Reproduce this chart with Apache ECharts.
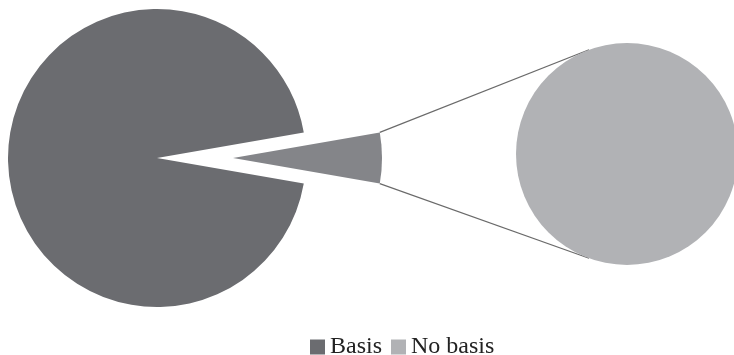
<!DOCTYPE html>
<html>
<head>
<meta charset="utf-8">
<script src="https://cdn.jsdelivr.net/npm/echarts@6/dist/echarts.min.js"></script>
<style>html,body{margin:0;padding:0;background:#fff;}#c{width:734px;height:355px;}</style>
</head>
<body>
<div id="c"></div>
<script>
// Data
const mainCategories = ['Other', 'Basis'];
const mainValues = [5.5, 94.5];
const secondCategories = ['No basis'];
const secondValues = [5.5];
const legendItems = ['Basis', 'No basis'];

// Layout / style
const mainCenter = [157, 158], mainR = 149, explode = 76;
const secCenter = [627, 154], secR = 111, secConnAngle = 110;
const colors = { 'Basis': '#6b6c70', 'Other': '#848589', 'No basis': '#b1b2b5' };

const total = mainValues.reduce((a, b) => a + b, 0);
const otherSpan = mainValues[0] / total * 360;
const startAngle = otherSpan / 2;

const chart = echarts.init(document.getElementById('c'), null, { renderer: 'canvas' });

// connector lines from exploded wedge edge to secondary pie
const wx = mainCenter[0] + explode, wy = mainCenter[1];
const a = startAngle * Math.PI / 180;
const topW = [wx + mainR * Math.cos(a), wy - mainR * Math.sin(a)];
const botW = [wx + mainR * Math.cos(a), wy + mainR * Math.sin(a)];
const b = secConnAngle * Math.PI / 180;
const topS = [secCenter[0] + secR * Math.cos(b), secCenter[1] - secR * Math.sin(b)];
const botS = [secCenter[0] + secR * Math.cos(b), secCenter[1] + secR * Math.sin(b)];

chart.setOption({
  animation: false,
  backgroundColor: '#fff',
  legend: {
    data: legendItems,
    left: 305,
    top: 330,
    icon: 'rect',
    itemWidth: 15,
    itemHeight: 15,
    itemGap: 9,
    selectedMode: false,
    textStyle: { fontFamily: 'Liberation Serif', fontSize: 24, color: '#222', padding: [0, 0, 0, 0] }
  },
  graphic: [
    { type: 'line', z: 0, shape: { x1: topW[0], y1: topW[1], x2: topS[0], y2: topS[1] }, style: { stroke: '#6a6a6a', lineWidth: 1.2 } },
    { type: 'line', z: 0, shape: { x1: botW[0], y1: botW[1], x2: botS[0], y2: botS[1] }, style: { stroke: '#6a6a6a', lineWidth: 1.2 } }
  ],
  series: [
    {
      type: 'pie',
      center: mainCenter,
      radius: mainR,
      startAngle: startAngle,
      clockwise: true,
      selectedMode: 'single',
      selectedOffset: explode,
      label: { show: false },
      labelLine: { show: false },
      emphasis: { disabled: true },
      silent: true,
      data: mainCategories.map((n, i) => ({
        name: n, value: mainValues[i], selected: i === 0,
        itemStyle: { color: colors[n] }
      }))
    },
    {
      type: 'pie',
      center: secCenter,
      radius: secR,
      label: { show: false },
      labelLine: { show: false },
      emphasis: { disabled: true },
      silent: true,
      data: secondCategories.map((n, i) => ({
        name: n, value: secondValues[i], itemStyle: { color: colors[n] }
      }))
    }
  ]
});
</script>
</body>
</html>
